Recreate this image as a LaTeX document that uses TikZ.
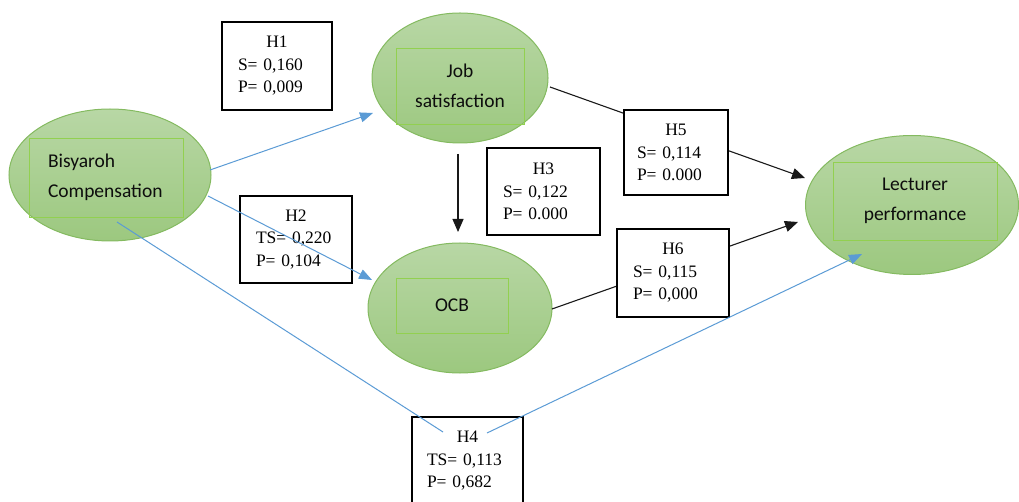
\documentclass[tikz,border=0pt]{standalone}
\usepackage{fontspec}
\usetikzlibrary{arrows.meta,shapes.geometric,calc}
\newfontfamily\boxfont{Liberation Serif}
\newfontfamily\ellfont{Carlito}
\definecolor{ellTop}{RGB}{184,215,165}
\definecolor{ellBot}{RGB}{156,200,127}
\definecolor{ellEdge}{RGB}{132,186,96}
\definecolor{rectEdge}{RGB}{146,208,80}
\definecolor{arrowBlue}{RGB}{91,155,213}
\tikzset{
  construct/.style={ellipse, draw=ellEdge, line width=1pt, top color=ellTop, bottom color=ellBot, inner sep=0pt, outer sep=0pt},
  innerrect/.style={rectangle, draw=rectEdge, line width=0.8pt, inner sep=0pt, outer sep=0pt, font=\ellfont\fontsize{19.5}{30}\selectfont, text=black!95, align=center},
  hypbox/.style={rectangle, draw=black, fill=white, line width=1.2pt, inner ysep=0pt, outer sep=0pt, align=left, font=\boxfont\fontsize{17.5}{22.5}\selectfont},
  blk/.style={draw=black!90, line width=1.1pt, -{Triangle[length=13pt,width=11pt]}},
  blu/.style={draw=arrowBlue, line width=1pt, -{Triangle[length=13pt,width=10pt]}},
}
\begin{document}
\begin{tikzpicture}[x=1pt,y=-1pt]
\useasboundingbox (0,0) rectangle (1019,502);
\clip (0,0) rectangle (1019,502);
% constructs
\node[construct, minimum width=202pt, minimum height=132pt] (bis) at (110,175) {};
\node[construct, minimum width=176pt, minimum height=130pt] (job) at (460,78) {};
\node[construct, minimum width=184pt, minimum height=130pt] (ocb) at (460,308) {};
\node[construct, minimum width=213pt, minimum height=139pt] (lec) at (912,205) {};
% inner text rectangles
\node[innerrect, align=left, text width=116pt, inner xsep=19pt, minimum height=79pt] (bist) at (106,177.5) {Bisyaroh\\Compensation};
\node[innerrect, minimum width=128pt, minimum height=76pt] (jobt) at (460,86) {Job\\satisfaction};
\node[innerrect, minimum width=112pt, minimum height=55pt] (ocbt) at (452,305.5) {OCB};
\node[innerrect, minimum width=164pt, minimum height=78pt] (lect) at (915,201) {Lecturer\\performance};
% black connectors (behind boxes)
\draw[blk] ($(job.center)+(-2,76)$) -- ($(ocb.center)+(-2,-76)$);
\draw[blk] ($(job.center)+(90,9)$) -- ($(lec.center)+(-107,-27)$);
\draw[blk] ($(ocb.center)+(92,1)$) -- ($(lec.center)+(-114,17)$);
% hypothesis boxes
\node[hypbox, text width=78pt, inner xsep=16pt, minimum height=88pt] (h1) at (277,66) {\makebox[\linewidth]{H1}\\S= 0,160\\P= 0,009};
\node[hypbox, text width=80pt, inner xsep=16pt, minimum height=87pt] (h2) at (296,239.5) {\makebox[\linewidth]{H2}\\TS= 0,220\\P= 0,104};
\node[hypbox, text width=81pt, inner xsep=16pt, minimum height=87pt] (h3) at (543.5,191.5) {\makebox[\linewidth]{H3}\\S= 0,122\\P= 0.000};
\node[hypbox, text width=78pt, inner xsep=13pt, minimum height=85pt] (h5) at (676,152.5) {\makebox[\linewidth]{H5}\\S= 0,114\\P= 0.000};
\node[hypbox, text width=80pt, inner xsep=16pt, minimum height=88pt] (h6) at (673,273) {\makebox[\linewidth]{H6}\\S= 0,115\\P= 0,000};
\node[hypbox, text width=81pt, inner xsep=15pt, minimum height=88pt] (h4) at (467.5,461) {\makebox[\linewidth]{H4}\\TS= 0,113\\P= 0,682};
% blue connectors (on top)
\draw[blu] ($(bis.center)+(100,-5)$) -- ($(job.center)+(-87,35)$);
\draw[blu] ($(bis.center)+(98,21)$) -- ($(ocb.center)+(-88,-28)$);
\coordinate (h4in) at ($(h4.center)+(-24.5,-29)$);
\coordinate (h4out) at ($(h4.center)+(19.5,-28)$);
\draw[draw=arrowBlue, line width=1pt] ($(bis.center)+(7,47)$) -- (h4in);
\draw[blu] (h4out) -- ($(lec.center)+(-50,49)$);
\end{tikzpicture}
\end{document}
